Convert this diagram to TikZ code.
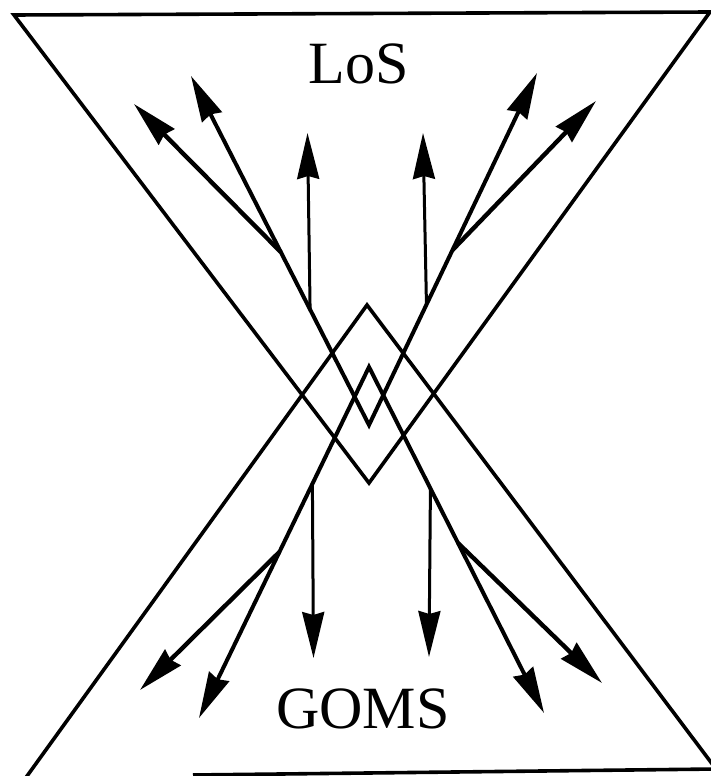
\documentclass[tikz,border=0pt]{standalone}
\usepackage{fontspec}
\setmainfont{Liberation Serif}
\usetikzlibrary{arrows.meta,calc}
\begin{document}
\begin{tikzpicture}[x=1pt,y=-1pt,
  edge/.style={line width=3.6pt, line join=miter},
  fan/.style={line width=4pt, line join=miter},
  branch/.style={line width=4.4pt},
  vert/.style={line width=3pt},
  tipstyle/.tip={Stealth[length=46pt,width=22pt,inset=3pt]},
  head/.style={-tipstyle},
  dhead/.style={tipstyle-tipstyle},
  lbl/.style={font=\fontsize{60}{62}\selectfont, inner sep=0pt, anchor=base}]
\useasboundingbox (0,0) rectangle (711,776);
% triangles
\coordinate (TL) at (14,15);
\coordinate (TR) at (710,12);
\coordinate (TA) at (369,483);
\coordinate (BA) at (367,305);
\coordinate (BL) at (22,783);
\coordinate (BR) at (716,769);
\coordinate (BE) at (193,775);
\begin{scope}
\clip (0,0) rectangle (711,776);
\draw[edge] (TL) -- (TR) -- (TA) -- cycle;
\draw[edge] (BE) -- (BR) -- (BA) -- (BL);
\end{scope}
% fans
\coordinate (UA) at (369,425);
\coordinate (LA) at (369,367);
\coordinate (ULm) at (191,76);
\coordinate (URm) at (537,73);
\coordinate (ULo) at (134,104);
\coordinate (URo) at (596,101);
\coordinate (ULv) at (307.5,133);
\coordinate (URv) at (423,133);
\coordinate (LLm) at (199,718);
\coordinate (LRm) at (544,713);
\coordinate (LLo) at (140,690);
\coordinate (LRo) at (602,683);
\coordinate (LLv) at (313.5,658);
\coordinate (LRv) at (429,657);
\coordinate (ULb) at ($(UA)!0.4957!(ULm)$);
\coordinate (URb) at ($(UA)!0.497!(URm)$);
\coordinate (ULvb) at ($(UA)!0.331!(ULm)$);
\coordinate (URvb) at ($(UA)!0.342!(URm)$);
\coordinate (LLb) at ($(LA)!0.527!(LLm)$);
\coordinate (LRb) at ($(LA)!0.509!(LRm)$);
\coordinate (LLvb) at ($(LA)!0.333!(LLm)$);
\coordinate (LRvb) at ($(LA)!0.351!(LRm)$);
\draw[fan,dhead] (ULm) -- (UA) -- (URm);
\draw[fan,dhead] (LLm) -- (LA) -- (LRm);
\draw[branch,head] (ULb) -- (ULo);
\draw[branch,head] (URb) -- (URo);
\draw[branch,head] (LLb) -- (LLo);
\draw[branch,head] (LRb) -- (LRo);
\draw[vert,head] (ULvb) -- (ULv);
\draw[vert,head] (URvb) -- (URv);
\draw[vert,head] (LLvb) -- (LLv);
\draw[vert,head] (LRvb) -- (LRv);
% labels
\node[lbl] (los) at (359,83) {LoS};
\node[lbl] (goms) at (363,728) {GOMS};
\end{tikzpicture}
\end{document}
